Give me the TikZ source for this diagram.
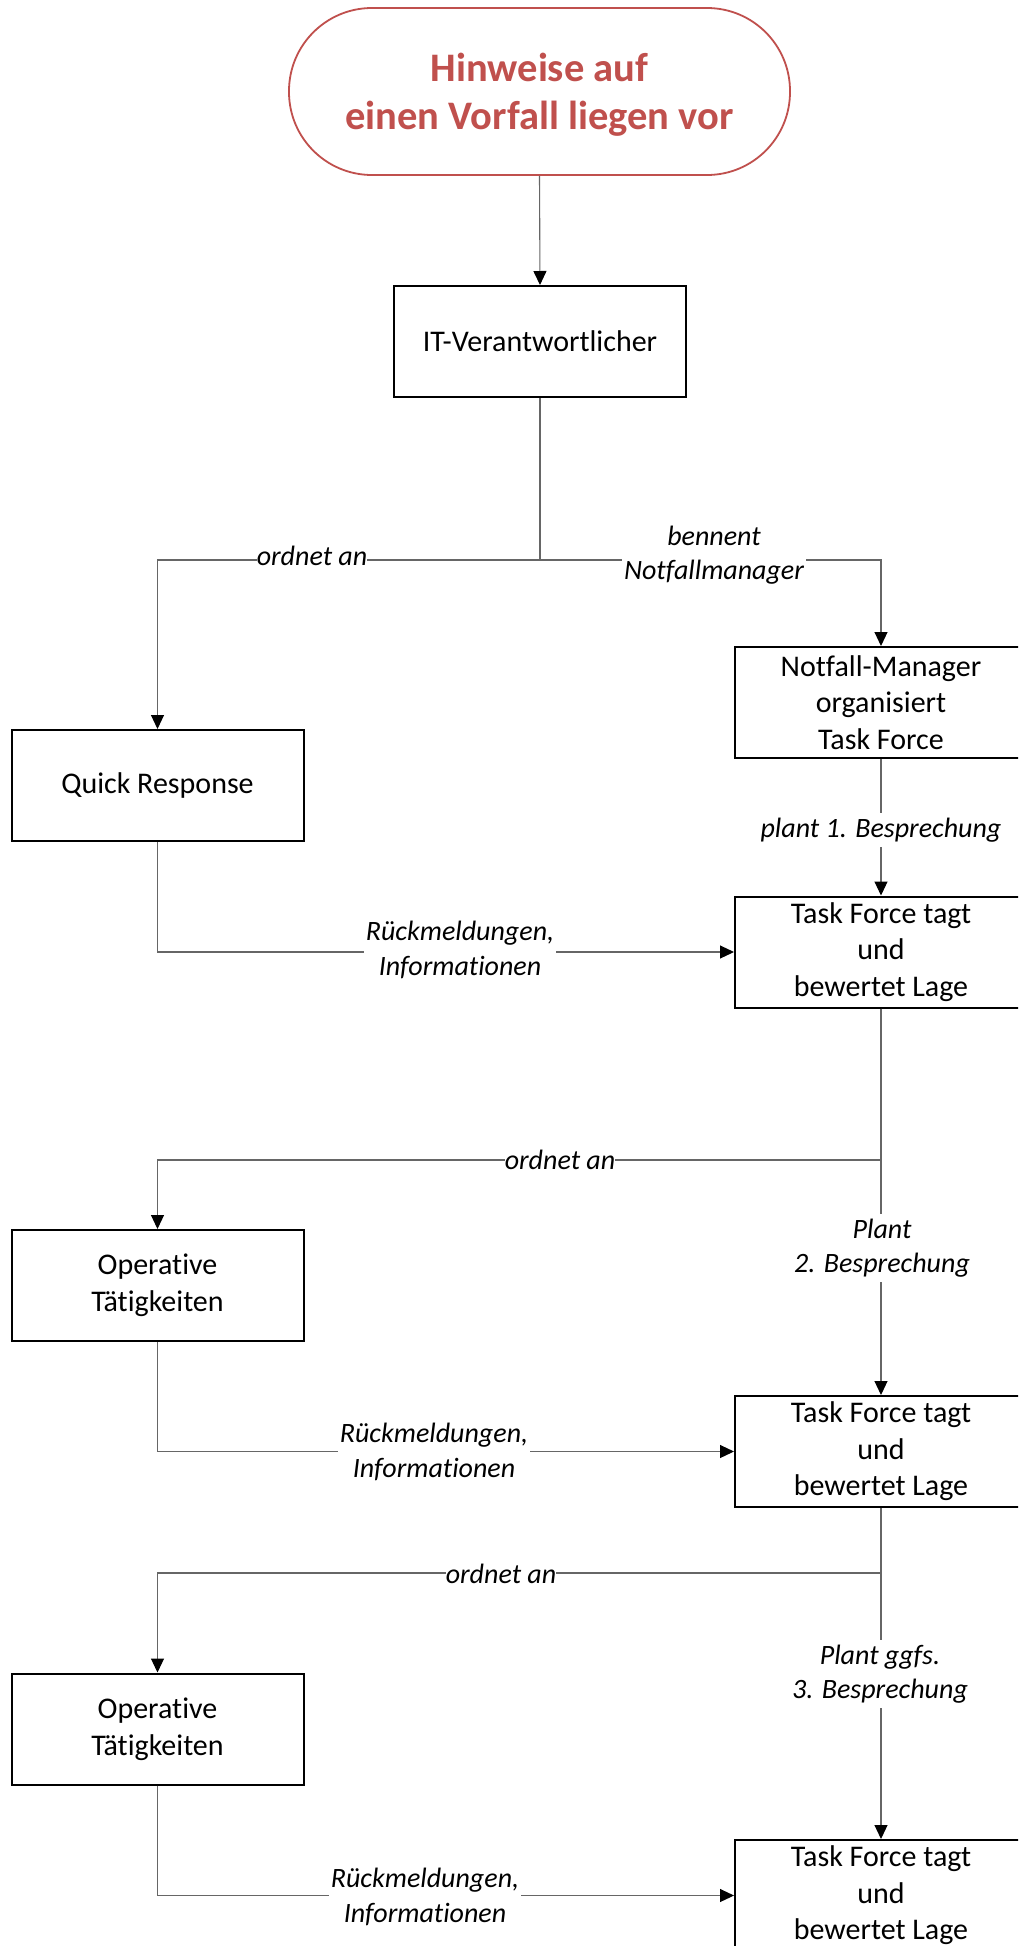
\documentclass[tikz,border=0pt]{standalone}
\usepackage{fontspec}
\setmainfont[Ligatures={NoCommon,NoContextual}]{Carlito}
\usetikzlibrary{arrows.meta}
\definecolor{titlered}{HTML}{C0504D}
\definecolor{conncol}{HTML}{666666}
\begin{document}
\begin{tikzpicture}[x=1pt,y=-1pt,
 box/.style={draw=black, line width=2pt, minimum width=292pt, minimum height=111pt, inner sep=0pt, align=center, font=\fontsize{30}{36.6}\selectfont},
 term/.style={draw=titlered, line width=1.8pt, rounded corners=83pt, minimum width=501pt, minimum height=167pt, inner sep=0pt},
 termtext/.style={inner sep=0pt, align=center, text=titlered, font=\fontsize{40.5}{48}\selectfont\bfseries},
 conn/.style={draw=conncol, line width=1.1pt},
 arr/.style={conn, -{Triangle[width=13pt,length=14pt,color=black]}},
 lbl/.style={fill=white, inner sep=2pt, align=center, font=\fontsize{28}{34.5}\selectfont\itshape},
]
\useasboundingbox (0,0) rectangle (1018,1946);
\clip (0,0) rectangle (1018,1946);
\fill[white] (0,0) rectangle (1018,1946);

% nodes
\node[term] (start) at (539.5,91.5) {};
\node[termtext] (starttext) at (539.5,95) {Hinweise auf\\einen Vorfall liegen vor};
\node[box] (it) at (540,341.5) {IT-Verantwortlicher};
\node[box] (qr) at (157.5,785.5) {Quick Response};
\node[box] (nm) at (881,702.5) {Notfall-Manager\\organisiert\\Task Force};
\node[box] (tf1) at (881,952) {Task Force tagt\\und\\bewertet Lage};
\node[box] (op1) at (157.5,1285.5) {Operative\\Tätigkeiten};
\node[box] (tf2) at (881,1451.5) {Task Force tagt\\und\\bewertet Lage};
\node[box] (op2) at (157.5,1729) {Operative\\Tätigkeiten};
\node[box] (tf3) at (881,1895.5) {Task Force tagt\\und\\bewertet Lage};

% junctions
\coordinate (j1) at (540,560);
\coordinate (j2) at (881,1160);
\coordinate (j3) at (881,1573);

% connectors
\draw[arr] (start.south) -- (it.north);
\draw[conn] (it.south) -- (j1);
\draw[arr] (j1) -| (qr.north);
\draw[arr] (j1) -| (nm.north);
\draw[arr] (nm.south) -- (tf1.north);
\draw[arr] (qr.south) |- (tf1.west);
\draw[arr] (tf1.south) -- (tf2.north);
\draw[arr] (tf1.south) -- (j2) -| (op1.north);
\draw[arr] (op1.south) |- (tf2.west);
\draw[arr] (tf2.south) -- (tf3.north);
\draw[arr] (tf2.south) -- (j3) -| (op2.north);
\draw[arr] (op2.south) |- (tf3.west);

% labels
\node[lbl, inner sep=0pt] (l1) at (312,556) {ordnet an};
\node[lbl] (l2) at (714,555) {bennent\\Notfallmanager};
\node[lbl, inner ysep=5pt] (l3) at (881,830) {plant 1. Besprechung};
\node[lbl] (l4) at (460,950) {Rückmeldungen,\\Informationen};
\node[lbl, inner sep=0pt] (l5) at (560,1160) {ordnet an};
\node[lbl, inner ysep=5pt] (l6) at (882,1248) {Plant\\2. Besprechung};
\node[lbl] (l7) at (434,1452) {Rückmeldungen,\\Informationen};
\node[lbl, inner sep=0pt] (l8) at (501,1574) {ordnet an};
\node[lbl, inner ysep=5pt] (l9) at (880,1674) {Plant ggfs.\\3. Besprechung};
\node[lbl] (l10) at (425,1897) {Rückmeldungen,\\Informationen};
\end{tikzpicture}
\end{document}
